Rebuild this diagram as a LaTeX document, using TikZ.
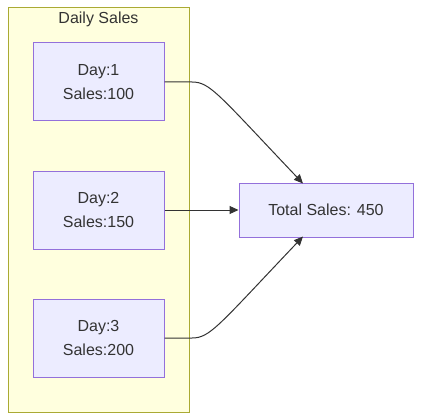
\documentclass[tikz,border=0pt]{standalone}
\usepackage{fontspec}
\setmainfont{Liberation Sans}
\usetikzlibrary{arrows.meta}
\definecolor{txt}{HTML}{333333}
\definecolor{nodefill}{HTML}{ECECFF}
\definecolor{nodeline}{HTML}{9370DB}
\definecolor{clfill}{HTML}{FFFFDE}
\definecolor{clline}{HTML}{AAAA33}
\begin{document}
\begin{tikzpicture}[x=1pt,y=-1pt,
  box/.style={draw=nodeline,fill=nodefill,line width=1pt,inner sep=0pt,text=txt,font=\fontsize{16}{24}\selectfont,align=center},
  conn/.style={draw=txt,line width=1pt,-{Triangle[length=9pt,width=8pt]}}]
\useasboundingbox (0,0) rectangle (421,420);
\node[draw=clline,fill=clfill,line width=1pt,minimum width=181pt,minimum height=404pt,inner sep=0pt] (cl) at (98.5,210) {};
\node[text=txt,font=\fontsize{16}{19}\selectfont] (title) at (98.5,19) {Daily Sales};
\node[box,minimum width=131pt,minimum height=78pt] (d1) at (98.5,82) {Day:1\\Sales:100};
\node[box,minimum width=131pt,minimum height=78pt] (d2) at (98.5,210) {Day:2\\Sales:150};
\node[box,minimum width=131pt,minimum height=78pt] (d3) at (98.5,338) {Day:3\\Sales:200};
\node[box,minimum width=174pt,minimum height=54pt] (tot) at (326,210) {Total Sales: 450};
\coordinate (t1) at (303,183.5);
\coordinate (t3) at (303,236.5);
\draw[conn] (d1.east) -- (192,82) .. controls (210,82) and (218,94) .. (t1);
\draw[conn] (d2.east) -- (tot.west);
\draw[conn] (d3.east) -- (192,338) .. controls (210,338) and (218,326) .. (t3);
\end{tikzpicture}
\end{document}
